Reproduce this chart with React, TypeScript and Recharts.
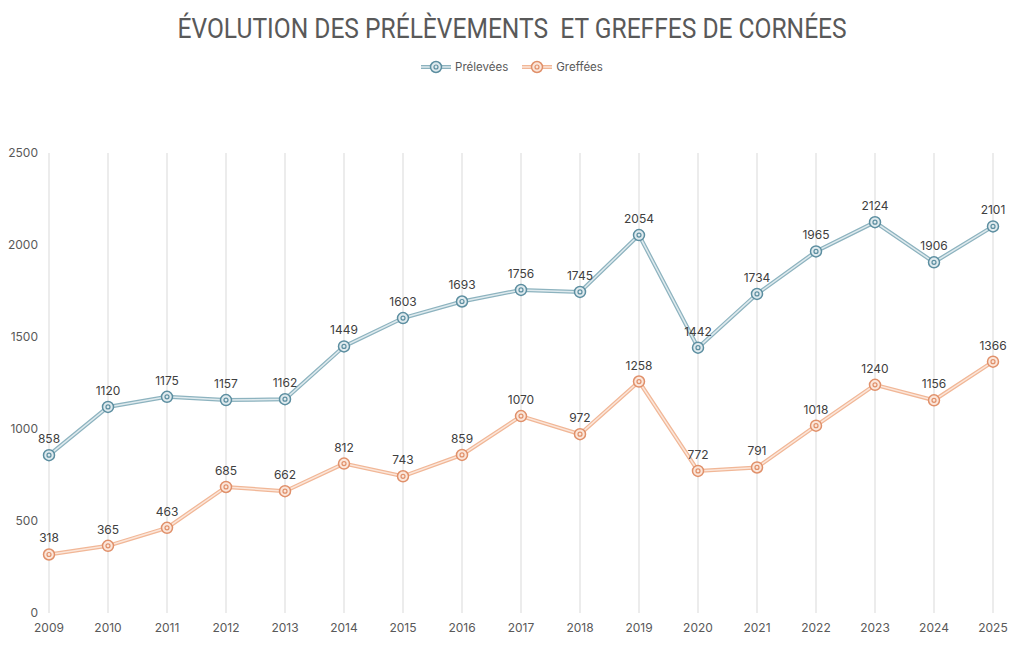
import React from 'react';
import { LineChart, Line, XAxis, YAxis, CartesianGrid, LabelList } from 'recharts';

const years = ['2009','2010','2011','2012','2013','2014','2015','2016','2017','2018','2019','2020','2021','2022','2023','2024','2025'];
const prelevees = [858,1120,1175,1157,1162,1449,1603,1693,1756,1745,2054,1442,1734,1965,2124,1906,2101];
const greffees = [318,365,463,685,662,812,743,859,1070,972,1258,772,791,1018,1240,1156,1366];
const yTicks = [0,500,1000,1500,2000,2500];

const seriesDefs = [
  { key: 'prelevees', name: 'Prélevées', dark: '#5c8ea0', outer: '#8db3bf', inner: '#dfeaee' },
  { key: 'greffees', name: 'Greffées', dark: '#e0906a', outer: '#f1b797', inner: '#fbe6da' },
];

const data = years.map((y, i) => ({ year: y, prelevees: prelevees[i], greffees: greffees[i] }));

const makeDot = (dark: string, inner: string) => (props: any) => {
  const { cx, cy, index } = props;
  if (cx == null || cy == null) return <g key={index} />;
  return (
    <g key={index}>
      <circle cx={cx} cy={cy} r={5.5} fill={inner} stroke={dark} strokeWidth={1.5} />
      <circle cx={cx} cy={cy} r={2} fill="none" stroke={dark} strokeWidth={1.2} />
    </g>
  );
};

const FONT = 'Inter, "Liberation Sans", sans-serif';

export default function App() {
  return (
    <div style={{ position: 'absolute', left: 0, top: 0, width: 1024, height: 666, background: '#fff', fontFamily: FONT }}>
      <div style={{ position: 'absolute', top: 13, left: 0, width: 1024, textAlign: 'center', fontFamily: 'Roboto, sans-serif', fontSize: 27, color: '#595959', transform: 'scaleX(0.91)', transformOrigin: '513px 0' }}>
        ÉVOLUTION DES PRÉLÈVEMENTS&nbsp; ET GREFFES DE CORNÉES
      </div>
      <div style={{ position: 'absolute', top: 60, left: 0, width: 1024, display: 'flex', justifyContent: 'center', gap: 14, fontSize: 11.5, color: '#595959' }}>
        {seriesDefs.map((s) => (
          <div key={s.key} style={{ display: 'flex', alignItems: 'center', gap: 4 }}>
            <svg width={30} height={14}>
              <line x1={0} y1={7} x2={30} y2={7} stroke={s.outer} strokeWidth={4} />
              <line x1={0} y1={7} x2={30} y2={7} stroke={s.inner} strokeWidth={1.5} />
              <circle cx={15} cy={7} r={5.5} fill={s.inner} stroke={s.dark} strokeWidth={1.5} />
              <circle cx={15} cy={7} r={2} fill="none" stroke={s.dark} strokeWidth={1.2} />
            </svg>
            <span>{s.name}</span>
          </div>
        ))}
      </div>
      <LineChart width={1024} height={666} data={data} margin={{ top: 153, right: 31, bottom: 24, left: 0 }}>
        <CartesianGrid horizontal={false} stroke="#d9d9d9" />
        <XAxis dataKey="year" axisLine={false} tickLine={false} tickSize={0} tickMargin={10} height={29}
          tick={{ fill: '#595959', fontSize: 12, fontFamily: FONT }} interval={0} />
        <YAxis domain={[0, 2500]} ticks={yTicks} axisLine={false} tickLine={false} tickSize={0} tickMargin={11} width={49}
          tick={{ fill: '#595959', fontSize: 12, fontFamily: FONT }} />
        {seriesDefs.map((s) => (
          <Line key={s.key + '-outer'} dataKey={s.key} stroke={s.outer} strokeWidth={4} dot={false} activeDot={false} isAnimationActive={false} legendType="none" />
        ))}
        {seriesDefs.map((s) => (
          <Line key={s.key + '-inner'} dataKey={s.key} name={s.name} stroke={s.inner} strokeWidth={1.5}
            dot={makeDot(s.dark, s.inner)} activeDot={false} isAnimationActive={false}>
            <LabelList dataKey={s.key} position="top" offset={12} fill="#404040" fontSize={12} fontFamily={FONT} />
          </Line>
        ))}
      </LineChart>
    </div>
  );
}
